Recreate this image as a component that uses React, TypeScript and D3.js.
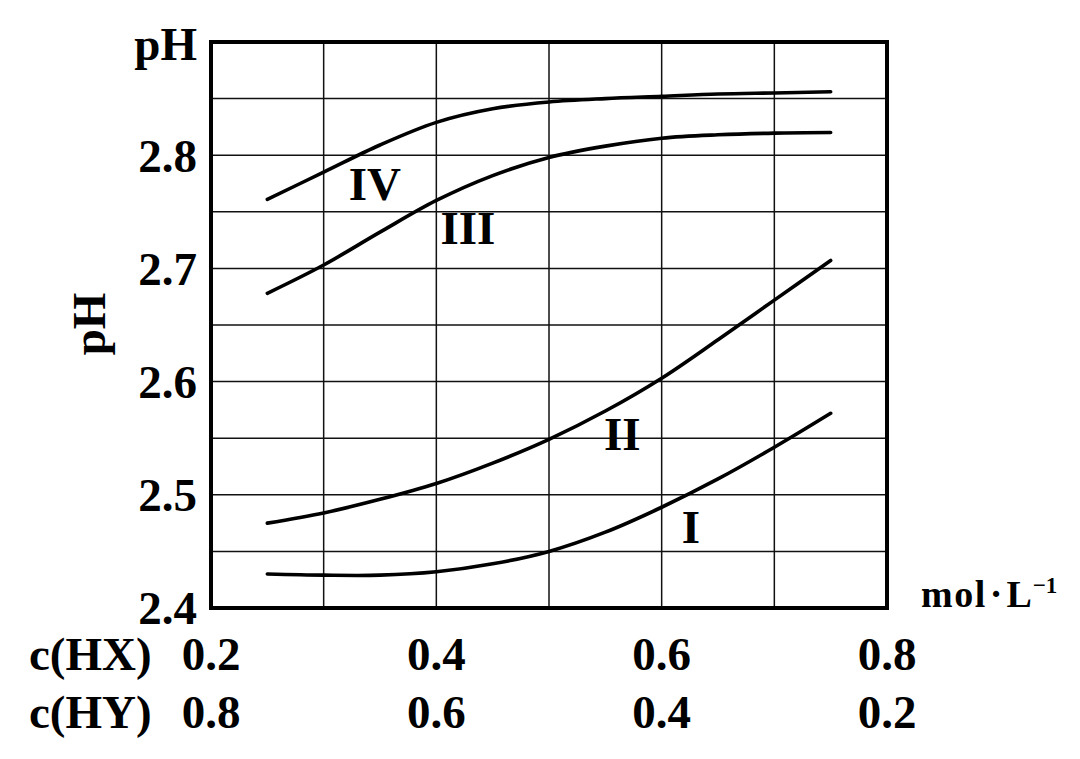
import * as d3 from "d3";

// x = c(HX); c(HY) = 1 - c(HX)
const concHX = [0.25, 0.3, 0.35, 0.4, 0.45, 0.5, 0.55, 0.6, 0.65, 0.7, 0.75];
const curveI = [2.43, 2.429, 2.429, 2.432, 2.439, 2.45, 2.467, 2.489, 2.514, 2.542, 2.572];
const curveII = [2.475, 2.484, 2.496, 2.51, 2.528, 2.549, 2.574, 2.603, 2.637, 2.672, 2.707];
const curveIII = [2.678, 2.703, 2.732, 2.76, 2.782, 2.798, 2.808, 2.815, 2.818, 2.8195, 2.82];
const curveIV = [2.761, 2.785, 2.809, 2.829, 2.841, 2.847, 2.85, 2.852, 2.854, 2.855, 2.856];

const curveNames = ["I", "II", "III", "IV"];
const labelX = [0.626, 0.565, 0.428, 0.3455];
const labelY = [2.472, 2.554, 2.736, 2.775];

const yTicks = [2.4, 2.5, 2.6, 2.7, 2.8];
const yGrid = [2.45, 2.5, 2.55, 2.6, 2.65, 2.7, 2.75, 2.8, 2.85];
const xGrid = [0.3, 0.4, 0.5, 0.6, 0.7];
const xTicksHX = [0.2, 0.4, 0.6, 0.8];
const xTicksHY = ["0.8", "0.6", "0.4", "0.2"];

const font = "'Liberation Serif', 'Times New Roman', serif";

export default function App() {
  const width = 1080;
  const height = 759;
  const x = d3.scaleLinear().domain([0.2, 0.8]).range([211, 887]);
  const y = d3.scaleLinear().domain([2.4, 2.9]).range([608, 42]);

  const line = d3
    .line<number>()
    .x((_, i) => x(concHX[i]))
    .y((d) => y(d))
    .curve(d3.curveCatmullRom.alpha(0.5));

  const series = [curveI, curveII, curveIII, curveIV];

  return (
    <svg
      width={width}
      height={height}
      viewBox={`0 0 ${width} ${height}`}
      style={{ position: "absolute", left: 0, top: 0, background: "#fff" }}
      fontFamily={font}
      fontWeight="bold"
    >
      {/* grid */}
      {yGrid.map((v) => (
        <line key={"gy" + v} x1={x(0.2)} x2={x(0.8)} y1={y(v)} y2={y(v)} stroke="#111" strokeWidth={1.5} />
      ))}
      {xGrid.map((v) => (
        <line key={"gx" + v} x1={x(v)} x2={x(v)} y1={y(2.4)} y2={y(2.9)} stroke="#111" strokeWidth={1.5} />
      ))}
      <rect
        x={x(0.2)}
        y={y(2.9)}
        width={x(0.8) - x(0.2)}
        height={y(2.4) - y(2.9)}
        fill="none"
        stroke="#000"
        strokeWidth={4}
      />

      {/* curves */}
      {series.map((s, i) => (
        <path
          key={curveNames[i]}
          d={line(s) ?? ""}
          fill="none"
          stroke="#000"
          strokeWidth={3.6}
          strokeLinecap="round"
        />
      ))}
      {curveNames.map((n, i) => (
        <text key={"lb" + n} x={x(labelX[i])} y={y(labelY[i])} dy="0.35em" textAnchor="middle" fontSize={47}>
          {n}
        </text>
      ))}

      {/* y axis */}
      {yTicks.map((v) => (
        <text key={"ty" + v} x={197} y={y(v)} dy="0.35em" textAnchor="end" fontSize={47}>
          {v.toFixed(1)}
        </text>
      ))}
      <text x={197} y={60} textAnchor="end" fontSize={47}>
        pH
      </text>
      <text transform={`translate(105,324) rotate(-90)`} textAnchor="middle" fontSize={47}>
        pH
      </text>

      {/* x axis */}
      <text x={29} y={670} fontSize={47}>
        c(HX)
      </text>
      <text x={29} y={728} fontSize={47}>
        c(HY)
      </text>
      {xTicksHX.map((v, i) => (
        <g key={"tx" + v}>
          <text x={x(v)} y={670} textAnchor="middle" fontSize={47}>
            {v.toFixed(1)}
          </text>
          <text x={x(v)} y={728} textAnchor="middle" fontSize={47}>
            {xTicksHY[i]}
          </text>
        </g>
      ))}
      <text x={921} y={607} fontSize={38}>
        <tspan letterSpacing={1.5}>mol</tspan>
        <tspan dx={3}>·</tspan>
        <tspan dx={4}>L</tspan>
        <tspan fontSize={23} dx={1} dy={-14}>
          −1
        </tspan>
      </text>
    </svg>
  );
}
